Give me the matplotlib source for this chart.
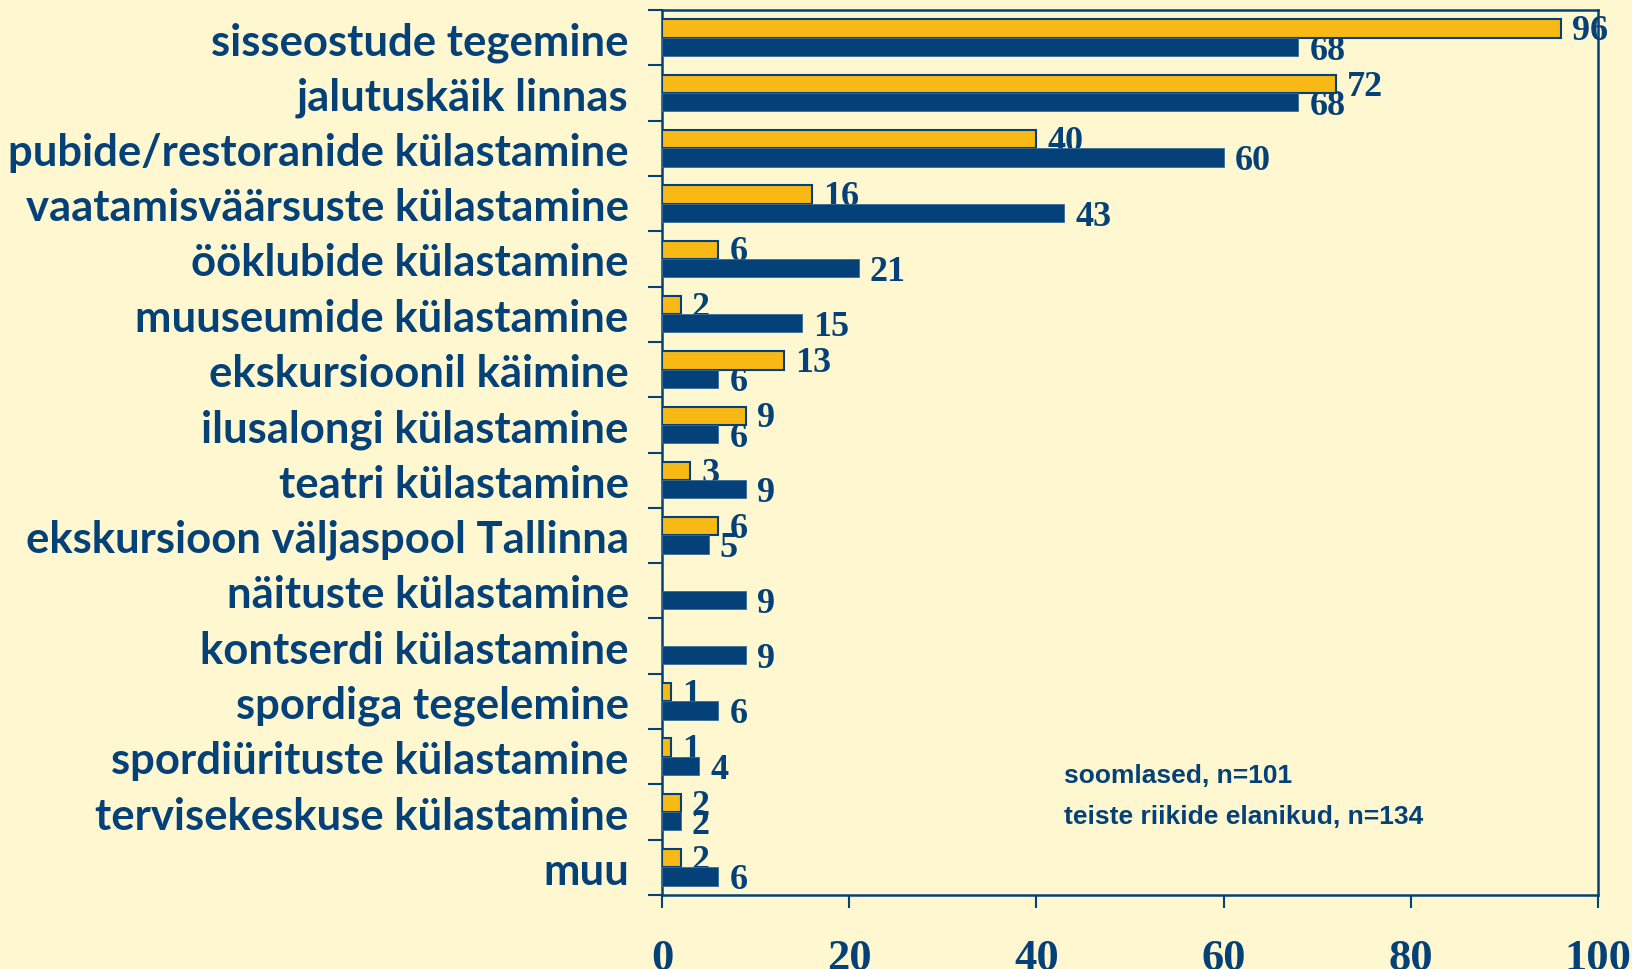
import matplotlib
matplotlib.use("Agg")
import matplotlib.pyplot as plt
import numpy as np

categories = [
    "sisseostude tegemine",
    "jalutuskäik linnas",
    "pubide/restoranide külastamine",
    "vaatamisväärsuste külastamine",
    "ööklubide külastamine",
    "muuseumide külastamine",
    "ekskursioonil käimine",
    "ilusalongi külastamine",
    "teatri külastamine",
    "ekskursioon väljaspool Tallinna",
    "näituste külastamine",
    "kontserdi külastamine",
    "spordiga tegelemine",
    "spordiürituste külastamine",
    "tervisekeskuse külastamine",
    "muu",
]
soomlased = [96, 72, 40, 16, 6, 2, 13, 9, 3, 6, None, None, 1, 1, 2, 2]
teised = [68, 68, 60, 43, 21, 15, 6, 6, 9, 5, 9, 9, 6, 4, 2, 6]
series_labels = ["soomlased, n=101", "teiste riikide elanikud, n=134"]
xticks = [0, 20, 40, 60, 80, 100]

BG = "#FEF7CF"
YEL = "#F9B914"
BLU = "#044178"

fig = plt.figure(figsize=(16.32, 9.70), dpi=100, facecolor=BG)
ax = fig.add_axes([662/1632, 1 - 896/970, (1598-662)/1632, (896-11)/970])
ax.set_facecolor(BG)

n = len(categories)
y = np.arange(n)
h = 0.33
ys = [v if v is not None else np.nan for v in soomlased]

ax.barh(y - h/2, ys, height=h, color=YEL, edgecolor=BLU, linewidth=1.5, zorder=3)
ax.barh(y + h/2, teised, height=h, color=BLU, edgecolor="#3a6d9a", linewidth=0.6, zorder=3)

numfont = dict(family="Liberation Serif", weight="bold", size=26, color=BLU)
for i, v in enumerate(soomlased):
    if v is None:
        continue
    ax.annotate(str(v), (v, i - h/2 + 0.04), xytext=(8, 0), textcoords="offset points",
                va="center", ha="left", zorder=2, **numfont)
for i, v in enumerate(teised):
    ax.annotate(str(v), (v, i + h/2 + 0.06), xytext=(8, 0), textcoords="offset points",
                va="center", ha="left", zorder=2, **numfont)

ax.set_xlim(0, 100)
ax.set_ylim(n - 0.5, -0.5)
ax.set_xticks(xticks)
ax.set_xticklabels([str(t) for t in xticks], fontfamily="Liberation Serif",
                   fontweight="bold", fontsize=32, color=BLU)
ax.tick_params(axis="x", direction="out", length=9, width=1.5, color=BLU, pad=22)

ax.set_yticks(y)
ax.set_yticklabels(categories, fontfamily="Lato", fontweight="bold", fontsize=31.4, color=BLU)
ax.tick_params(axis="y", which="major", length=0, pad=24)
ax.set_yticks(np.arange(n + 1) - 0.5, minor=True)
ax.tick_params(axis="y", which="minor", direction="out", length=10, width=1.5, color=BLU)

for s in ax.spines.values():
    s.set_color(BLU)
    s.set_linewidth(1.8)

ax.text(0.43, 0.136, series_labels[0], transform=ax.transAxes, fontfamily="Liberation Sans",
        fontweight="bold", fontsize=19, color=BLU, va="center", ha="left")
ax.text(0.43, 0.089, series_labels[1], transform=ax.transAxes, fontfamily="Liberation Sans",
        fontweight="bold", fontsize=19, color=BLU, va="center", ha="left")

fig.savefig("out.png", dpi=100, facecolor=BG)
